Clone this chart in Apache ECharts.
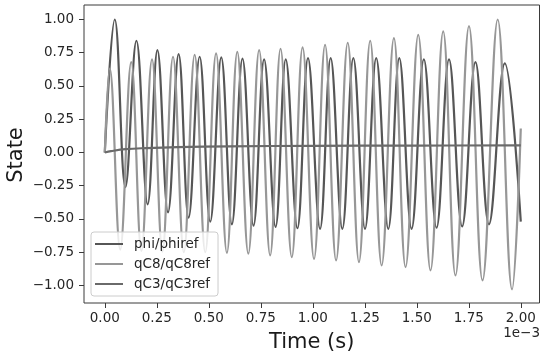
<!DOCTYPE html>
<html><head><meta charset="utf-8">
<script src="https://cdn.jsdelivr.net/npm/echarts@6/dist/echarts.min.js"></script>
<style>html,body{margin:0;padding:0;background:#fff}#c{width:542px;height:356px}</style>
</head><body><div id="c"></div>
<script>
// Names
const seriesNames = ['phi/phiref', 'qC8/qC8ref', 'qC3/qC3ref'];
// Time in units of 1e-3 s
const phiTime = [0,0.048,0.099,0.152,0.206,0.253,0.304,0.355,0.403,0.456,0.507,0.560,0.611,0.662,0.715,0.766,0.821,0.870,0.926,0.977,1.035,1.086,1.142,1.195,1.251,1.305,1.363,1.416,1.475,1.534,1.595,1.655,1.718,1.782,1.847,1.923,2.0];
const phiVal  = [0,1.0,-0.26,0.84,-0.39,0.77,-0.45,0.74,-0.49,0.72,-0.52,0.715,-0.54,0.705,-0.55,0.70,-0.56,0.70,-0.57,0.71,-0.574,0.71,-0.574,0.71,-0.574,0.71,-0.574,0.71,-0.574,0.70,-0.566,0.70,-0.556,0.68,-0.54,0.67,-0.52];
const qc8Time = [0,0.024,0.074,0.127,0.176,0.227,0.277,0.328,0.380,0.432,0.483,0.535,0.587,0.637,0.690,0.742,0.795,0.845,0.899,0.951,1.006,1.059,1.112,1.168,1.222,1.276,1.331,1.390,1.446,1.507,1.566,1.627,1.686,1.751,1.816,1.889,1.958,2.0];
const qc8Val  = [0,0.63,-0.73,0.68,-0.74,0.70,-0.745,0.72,-0.75,0.735,-0.75,0.745,-0.755,0.757,-0.76,0.77,-0.774,0.78,-0.787,0.79,-0.80,0.81,-0.812,0.825,-0.825,0.84,-0.85,0.86,-0.862,0.885,-0.887,0.91,-0.925,0.95,-0.962,1.0,-1.03,0.18];
const qc3Time = [0,0.03,0.1,0.2,0.35,0.6,1.0,1.5,2.0];
const qc3Val  = [0,0.01,0.025,0.033,0.04,0.046,0.05,0.052,0.053];
// Tick labels
const xTicks = [0,0.25,0.5,0.75,1.0,1.25,1.5,1.75,2.0];
const yTicks = [-1.0,-0.75,-0.5,-0.25,0,0.25,0.5,0.75,1.0];
const xOffsetText = '1e\u22123';
const xTitle = 'Time (s)';
const yTitle = 'State';

const FONT = 'DejaVu Sans';
const AX = '#3a3a3a';
const TXT = '#262626';
const zip = (t, v) => t.map((x, i) => [x, v[i]]);
const fmt = v => (v < 0 ? '\u2212' : '') + Math.abs(v).toFixed(2);

const chart = echarts.init(document.getElementById('c'), null, {renderer: 'canvas'});
const colors = ['#565656', '#979797', '#6a6a6a'];
const datas = [zip(phiTime, phiVal), zip(qc8Time, qc8Val), zip(qc3Time, qc3Val)];

chart.setOption({
  animation: false,
  grid: {left: 84, top: 5, width: 455.5, height: 298, show: true, borderColor: AX, borderWidth: 1, backgroundColor: 'transparent', containLabel: false, outerBoundsMode: 'none'},
  xAxis: {
    type: 'value', min: -0.1, max: 2.09,
    splitLine: {show: false},
    axisLine: {show: false, onZero: false},
    axisTick: {show: true, length: 5, lineStyle: {color: AX}, customValues: xTicks},
    axisLabel: {customValues: xTicks, formatter: fmt, fontFamily: FONT, fontSize: 13.5, color: TXT, margin: 8},
    name: xTitle, nameLocation: 'middle', nameGap: 29,
    nameTextStyle: {fontFamily: FONT, fontSize: 21, color: '#1a1a1a'}
  },
  yAxis: {
    type: 'value', min: -1.132, max: 1.109,
    splitLine: {show: false},
    axisLine: {show: false, onZero: false},
    axisTick: {show: true, length: 5, lineStyle: {color: AX}, customValues: yTicks},
    axisLabel: {customValues: yTicks, formatter: fmt, fontFamily: FONT, fontSize: 13.5, color: TXT, margin: 10}
  },
  legend: {
    orient: 'vertical', left: 91, top: 232, data: seriesNames,
    icon: 'rect', itemWidth: 28, itemHeight: 2, itemGap: 6,
    padding: [5, 8, 5, 4],
    backgroundColor: 'rgba(255,255,255,0.8)', borderColor: '#cccccc', borderWidth: 1, borderRadius: 3,
    textStyle: {fontFamily: FONT, fontSize: 13.5, color: TXT, padding: [0, 0, 0, 6], lineHeight: 14}
  },
  graphic: [{
    type: 'text', right: 2, top: 326,
    style: {text: xOffsetText, font: '13.5px "DejaVu Sans"', fill: TXT}
  }, {
    type: 'text', x: 17, y: 155, rotation: Math.PI / 2,
    style: {text: yTitle, font: '21px "DejaVu Sans"', fill: '#1a1a1a', align: 'center', verticalAlign: 'middle'}
  }],
  series: seriesNames.map((n, i) => ({
    name: n, type: 'line', data: datas[i], showSymbol: false, smooth: 0.4,
    lineStyle: {color: colors[i], width: 2.2}, itemStyle: {color: colors[i]},
    z: 2 + i
  }))
});
</script>
</body></html>
